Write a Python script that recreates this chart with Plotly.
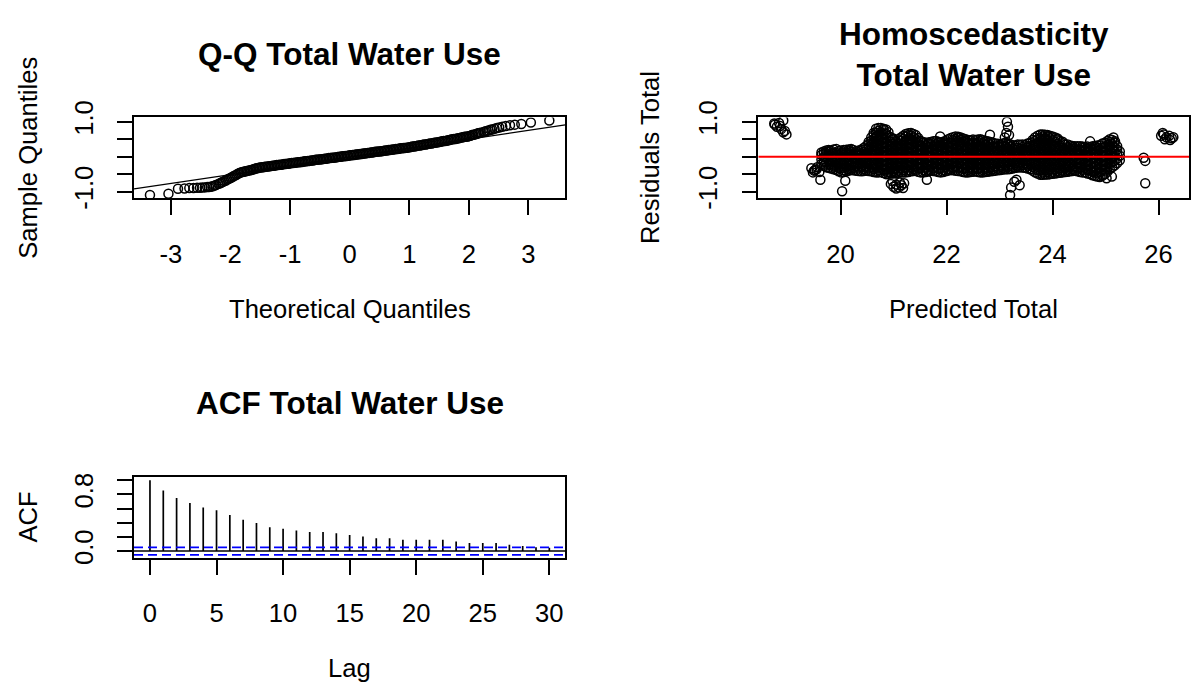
import plotly.graph_objects as go

W, H = 1193, 691
FONT = "Arial, 'Liberation Sans', sans-serif"

# ---------------- Q-Q plot of residuals ----------------
QQ_THEORETICAL = [
    -3.35, -3.04, -2.88, -2.77, -2.69, -2.62, -2.56, -2.51, -2.47, -2.43, -2.39, -2.36, -2.33, -2.30, -2.27, -2.245,
    -2.2, -2.175, -2.15, -2.125, -2.1, -2.075, -2.05, -2.025, -2.0,
    -1.975, -1.95, -1.925, -1.9, -1.875, -1.85,
    -1.825, -1.8, -1.775, -1.75, -1.725, -1.7, -1.675, -1.65, -1.625, -1.6, -1.575, -1.55, -1.525, -1.5,
    -1.475, -1.45, -1.425, -1.4, -1.375, -1.35, -1.325, -1.3, -1.275, -1.25,
    -1.225, -1.2, -1.175, -1.15, -1.125, -1.1, -1.075, -1.05, -1.025, -1.0,
    -0.975, -0.95, -0.925, -0.9, -0.875, -0.85, -0.825, -0.8, -0.775, -0.75,
    -0.725, -0.7, -0.675, -0.65, -0.625, -0.6, -0.575, -0.55, -0.525, -0.5,
    -0.475, -0.45, -0.425, -0.4, -0.375, -0.35, -0.325, -0.3, -0.275, -0.25,
    -0.225, -0.2, -0.175, -0.15, -0.125, -0.1, -0.075, -0.05, -0.025, 0.0,
    0.025, 0.05, 0.075, 0.1, 0.125, 0.15, 0.175, 0.2, 0.225, 0.25,
    0.275, 0.3, 0.325, 0.35, 0.375, 0.4, 0.425, 0.45, 0.475, 0.5,
    0.525, 0.55, 0.575, 0.6, 0.625, 0.65, 0.675, 0.7, 0.725, 0.75,
    0.775, 0.8, 0.825, 0.85, 0.875, 0.9, 0.925, 0.95, 0.975, 1.0,
    1.025, 1.05, 1.075, 1.1, 1.125, 1.15, 1.175, 1.2, 1.225, 1.25,
    1.275, 1.3, 1.325, 1.35, 1.375, 1.4, 1.425, 1.45, 1.475, 1.5,
    1.525, 1.55, 1.575, 1.6, 1.625, 1.65, 1.675, 1.7, 1.725, 1.75,
    1.775, 1.8, 1.825, 1.85, 1.875, 1.9, 1.925, 1.95, 1.975, 2.0,
    2.025, 2.05, 2.075, 2.1, 2.125, 2.15, 2.175, 2.2,
    2.245, 2.27, 2.30, 2.33, 2.36, 2.39, 2.43, 2.47, 2.51, 2.56, 2.62, 2.69, 2.77, 2.88, 3.04, 3.35,
]
QQ_SAMPLE = [
    -1.10, -1.06, -0.92, -0.91, -0.90, -0.90, -0.89, -0.89, -0.88, -0.88, -0.87, -0.87, -0.86, -0.85, -0.83, -0.81,
    -0.78, -0.76, -0.74, -0.72, -0.70, -0.68, -0.65, -0.63, -0.61,
    -0.59, -0.56, -0.54, -0.52, -0.49, -0.47,
    -0.45, -0.44, -0.43, -0.42, -0.41, -0.40, -0.39, -0.38, -0.37, -0.35, -0.34, -0.33, -0.32, -0.31,
    -0.30, -0.30, -0.29, -0.29, -0.28, -0.27, -0.27, -0.26, -0.26, -0.25,
    -0.24, -0.24, -0.23, -0.23, -0.22, -0.21, -0.21, -0.20, -0.20, -0.19,
    -0.18, -0.18, -0.17, -0.17, -0.16, -0.16, -0.15, -0.15, -0.14, -0.13,
    -0.13, -0.12, -0.12, -0.11, -0.11, -0.10, -0.09, -0.09, -0.08, -0.08,
    -0.07, -0.07, -0.06, -0.06, -0.05, -0.04, -0.04, -0.03, -0.03, -0.02,
    -0.02, -0.01, 0.00, 0.00, 0.01, 0.01, 0.02, 0.02, 0.03, 0.04,
    0.04, 0.05, 0.05, 0.06, 0.06, 0.07, 0.08, 0.08, 0.09, 0.09,
    0.10, 0.11, 0.11, 0.12, 0.12, 0.13, 0.14, 0.14, 0.15, 0.15,
    0.16, 0.16, 0.17, 0.18, 0.18, 0.19, 0.19, 0.20, 0.21, 0.21,
    0.22, 0.22, 0.23, 0.24, 0.24, 0.25, 0.25, 0.26, 0.26, 0.27,
    0.28, 0.29, 0.29, 0.30, 0.31, 0.32, 0.32, 0.33, 0.34, 0.35,
    0.35, 0.36, 0.37, 0.38, 0.38, 0.39, 0.40, 0.41, 0.41, 0.42,
    0.43, 0.44, 0.45, 0.45, 0.46, 0.47, 0.48, 0.49, 0.50, 0.51,
    0.51, 0.52, 0.53, 0.54, 0.55, 0.56, 0.57, 0.57, 0.58, 0.59,
    0.60, 0.62, 0.63, 0.64, 0.65, 0.67, 0.68, 0.69,
    0.71, 0.72, 0.74, 0.75, 0.77, 0.78, 0.80, 0.82, 0.84, 0.86, 0.88, 0.90, 0.92, 0.94, 0.98, 1.04,
]
QQ_LINE_INTERCEPT = -0.005
QQ_LINE_SLOPE = 0.254
QQ_XTICKS = [-3, -2, -1, 0, 1, 2, 3]

RESID_YTICKS = [-1.0, -0.5, 0.0, 0.5, 1.0]
RESID_YTICK_TEXT = ["-1.0", "", "", "", "1.0"]

# ---------------- residuals vs predicted ----------------
# main cloud: predicted value of each vertical strip and the residuals in it
FITTED_COLUMNS = [
    19.64, 19.685, 19.73, 19.775, 19.82, 19.87, 19.92, 19.965, 20.01, 20.06,
    20.11, 20.155, 20.20, 20.245, 20.29, 20.34, 20.39, 20.435, 20.48, 20.53,
    20.58, 20.625, 20.67, 20.715, 20.76, 20.81, 20.86, 20.905, 20.95, 20.995,
    21.04, 21.09, 21.14, 21.185, 21.23, 21.28, 21.33, 21.375, 21.42, 21.465,
    21.51, 21.56, 21.61, 21.655, 21.70, 21.75, 21.80, 21.845, 21.89, 21.935,
    21.98, 22.03, 22.08, 22.125, 22.17, 22.22, 22.27, 22.315, 22.36, 22.405,
    22.45, 22.50, 22.55, 22.595, 22.64, 22.685, 22.73, 22.78, 22.83, 22.875,
    22.92, 22.97, 23.02, 23.065, 23.11, 23.155, 23.20, 23.25, 23.30, 23.345,
    23.39, 23.435, 23.48, 23.53, 23.58, 23.625, 23.67, 23.72, 23.77, 23.815,
    23.86, 23.905, 23.95, 24.00, 24.05, 24.095, 24.14, 24.19, 24.24, 24.285,
    24.33, 24.375, 24.42, 24.47, 24.52, 24.565, 24.61, 24.66, 24.71, 24.755,
    24.80, 24.845, 24.89, 24.94, 24.99, 25.035, 25.08, 25.125, 25.17, 25.22,
    25.27,
]
RESIDUALS_BY_COLUMN = [
    [-0.21, -0.08, 0.05, 0.12],
    [-0.26, -0.145, -0.015, 0.09, 0.15],
    [-0.30, -0.16, -0.03, 0.10, 0.18],
    [-0.32, -0.23, -0.095, 0.035, 0.14, 0.19],
    [-0.34, -0.22, -0.09, 0.04, 0.17],
    [-0.36, -0.28, -0.155, -0.025, 0.105, 0.21],
    [-0.38, -0.27, -0.15, -0.02, 0.11, 0.22],
    [-0.42, -0.325, -0.21, -0.085, 0.045, 0.165],
    [-0.45, -0.33, -0.20, -0.07, 0.06, 0.18],
    [-0.44, -0.39, -0.265, -0.135, -0.005, 0.12, 0.19],
    [-0.42, -0.29, -0.14, -0.01, 0.12, 0.20],
    [-0.40, -0.355, -0.215, -0.075, 0.055, 0.16, 0.21],
    [-0.38, -0.25, -0.12, 0.01, 0.14, 0.22],
    [-0.39, -0.315, -0.185, -0.055, 0.075, 0.19],
    [-0.40, -0.27, -0.15, -0.03, 0.09, 0.16],
    [-0.41, -0.335, -0.21, -0.09, 0.03, 0.125, 0.18],
    [-0.42, -0.30, -0.17, -0.04, 0.08, 0.20],
    [-0.41, -0.36, -0.235, -0.105, 0.02, 0.14, 0.25],
    [-0.40, -0.28, -0.15, -0.02, 0.11, 0.23, 0.30],
    [-0.41, -0.34, -0.215, -0.085, 0.045, 0.17, 0.265, 0.36, 0.42],
    [-0.42, -0.30, -0.17, -0.04, 0.09, 0.21, 0.34, 0.46, 0.55],
    [-0.44, -0.36, -0.235, -0.105, 0.025, 0.15, 0.275, 0.40, 0.505, 0.62, 0.68],
    [-0.45, -0.32, -0.19, -0.06, 0.07, 0.19, 0.31, 0.44, 0.57, 0.69, 0.80],
    [-0.45, -0.385, -0.255, -0.125, 0.005, 0.13, 0.25, 0.375, 0.505, 0.63, 0.745, 0.82],
    [-0.44, -0.31, -0.18, -0.05, 0.08, 0.20, 0.33, 0.46, 0.58, 0.71, 0.82],
    [-0.47, -0.375, -0.245, -0.115, 0.015, 0.14, 0.265, 0.395, 0.52, 0.645, 0.765, 0.80],
    [-0.50, -0.37, -0.24, -0.11, 0.02, 0.15, 0.27, 0.40, 0.53, 0.66, 0.78],
    [-0.49, -0.435, -0.305, -0.175, -0.045, 0.085, 0.21, 0.335, 0.465, 0.595, 0.70],
    [-0.48, -0.35, -0.22, -0.09, 0.04, 0.17, 0.30, 0.43, 0.55],
    [-0.48, -0.415, -0.285, -0.155, -0.025, 0.105, 0.235, 0.365, 0.49, 0.52],
    [-0.47, -0.34, -0.21, -0.08, 0.05, 0.18, 0.31, 0.44],
    [-0.46, -0.405, -0.275, -0.145, -0.015, 0.115, 0.245, 0.375, 0.50],
    [-0.45, -0.32, -0.19, -0.06, 0.07, 0.20, 0.33, 0.46, 0.55],
    [-0.45, -0.385, -0.255, -0.125, 0.005, 0.135, 0.265, 0.395, 0.505, 0.60],
    [-0.45, -0.32, -0.19, -0.06, 0.07, 0.20, 0.33, 0.46, 0.58, 0.65],
    [-0.44, -0.385, -0.255, -0.125, 0.005, 0.135, 0.265, 0.395, 0.52, 0.615, 0.67],
    [-0.42, -0.29, -0.16, -0.03, 0.10, 0.23, 0.36, 0.49, 0.61, 0.68],
    [-0.41, -0.355, -0.225, -0.095, 0.035, 0.165, 0.295, 0.425, 0.55, 0.65],
    [-0.40, -0.27, -0.14, -0.01, 0.12, 0.25, 0.38, 0.50, 0.62],
    [-0.43, -0.335, -0.205, -0.075, 0.055, 0.185, 0.315, 0.44, 0.54],
    [-0.45, -0.32, -0.19, -0.06, 0.07, 0.20, 0.33, 0.45],
    [-0.45, -0.385, -0.255, -0.125, 0.005, 0.135, 0.265, 0.39, 0.42],
    [-0.44, -0.31, -0.18, -0.05, 0.08, 0.21, 0.33, 0.40],
    [-0.42, -0.375, -0.245, -0.115, 0.015, 0.145, 0.27, 0.365, 0.41],
    [-0.40, -0.27, -0.14, -0.01, 0.12, 0.25, 0.37, 0.42],
    [-0.41, -0.335, -0.205, -0.075, 0.055, 0.185, 0.31, 0.44],
    [-0.42, -0.29, -0.16, -0.03, 0.10, 0.23, 0.35, 0.45],
    [-0.44, -0.355, -0.225, -0.095, 0.035, 0.165, 0.29, 0.40, 0.43],
    [-0.45, -0.32, -0.19, -0.06, 0.07, 0.20, 0.32, 0.40],
    [-0.44, -0.385, -0.255, -0.125, 0.005, 0.135, 0.26, 0.36, 0.43],
    [-0.42, -0.29, -0.16, -0.03, 0.10, 0.23, 0.35, 0.45],
    [-0.40, -0.355, -0.225, -0.095, 0.035, 0.165, 0.29, 0.40, 0.50],
    [-0.38, -0.25, -0.12, 0.01, 0.14, 0.27, 0.40, 0.54],
    [-0.39, -0.315, -0.185, -0.055, 0.075, 0.205, 0.335, 0.47, 0.56],
    [-0.40, -0.27, -0.14, -0.01, 0.12, 0.25, 0.38, 0.50, 0.58],
    [-0.41, -0.335, -0.205, -0.075, 0.055, 0.185, 0.315, 0.44, 0.54, 0.57],
    [-0.42, -0.29, -0.16, -0.03, 0.10, 0.23, 0.36, 0.48, 0.55],
    [-0.44, -0.355, -0.225, -0.095, 0.035, 0.165, 0.295, 0.42, 0.52],
    [-0.45, -0.32, -0.19, -0.06, 0.07, 0.20, 0.33, 0.45, 0.50],
    [-0.45, -0.385, -0.255, -0.125, 0.005, 0.135, 0.265, 0.39, 0.48],
    [-0.44, -0.31, -0.18, -0.05, 0.08, 0.21, 0.34, 0.47],
    [-0.43, -0.375, -0.245, -0.115, 0.015, 0.145, 0.275, 0.405, 0.49],
    [-0.42, -0.29, -0.16, -0.03, 0.10, 0.23, 0.36, 0.48],
    [-0.44, -0.355, -0.225, -0.095, 0.035, 0.165, 0.295, 0.42, 0.49],
    [-0.45, -0.32, -0.19, -0.06, 0.07, 0.20, 0.33, 0.45, 0.50],
    [-0.45, -0.385, -0.255, -0.125, 0.005, 0.135, 0.265, 0.39, 0.48],
    [-0.44, -0.31, -0.18, -0.05, 0.08, 0.21, 0.34, 0.45],
    [-0.43, -0.375, -0.245, -0.115, 0.015, 0.145, 0.275, 0.395, 0.44],
    [-0.42, -0.29, -0.16, -0.03, 0.10, 0.23, 0.35, 0.42],
    [-0.41, -0.355, -0.225, -0.095, 0.035, 0.165, 0.29, 0.40],
    [-0.40, -0.27, -0.14, -0.01, 0.12, 0.25, 0.38],
    [-0.39, -0.335, -0.205, -0.075, 0.055, 0.185, 0.315, 0.37],
    [-0.38, -0.25, -0.12, 0.01, 0.14, 0.27, 0.35],
    [-0.37, -0.315, -0.185, -0.055, 0.075, 0.205, 0.31, 0.38],
    [-0.36, -0.23, -0.10, 0.03, 0.16, 0.29, 0.40],
    [-0.36, -0.295, -0.165, -0.035, 0.095, 0.225, 0.345, 0.38],
    [-0.35, -0.22, -0.09, 0.04, 0.17, 0.29, 0.36],
    [-0.34, -0.285, -0.155, -0.025, 0.105, 0.23, 0.33],
    [-0.32, -0.19, -0.06, 0.07, 0.20, 0.32],
    [-0.31, -0.255, -0.125, 0.005, 0.135, 0.26, 0.35],
    [-0.30, -0.17, -0.04, 0.09, 0.22, 0.34],
    [-0.31, -0.235, -0.105, 0.025, 0.155, 0.28, 0.35],
    [-0.32, -0.19, -0.06, 0.07, 0.20, 0.33],
    [-0.34, -0.255, -0.125, 0.005, 0.135, 0.265, 0.38],
    [-0.36, -0.23, -0.10, 0.03, 0.16, 0.29, 0.40],
    [-0.40, -0.295, -0.165, -0.035, 0.095, 0.225, 0.345, 0.48],
    [-0.45, -0.32, -0.19, -0.06, 0.07, 0.20, 0.33, 0.45, 0.55],
    [-0.48, -0.385, -0.255, -0.125, 0.005, 0.135, 0.265, 0.39, 0.50, 0.60],
    [-0.52, -0.39, -0.26, -0.13, 0.00, 0.13, 0.26, 0.39, 0.52, 0.64],
    [-0.52, -0.455, -0.325, -0.195, -0.065, 0.065, 0.195, 0.325, 0.455, 0.58, 0.64],
    [-0.51, -0.38, -0.25, -0.12, 0.01, 0.14, 0.27, 0.40, 0.53, 0.63],
    [-0.51, -0.445, -0.315, -0.185, -0.055, 0.075, 0.205, 0.335, 0.465, 0.58, 0.62],
    [-0.50, -0.37, -0.24, -0.11, 0.02, 0.15, 0.28, 0.41, 0.53, 0.60],
    [-0.49, -0.435, -0.305, -0.175, -0.045, 0.085, 0.215, 0.345, 0.47, 0.58],
    [-0.48, -0.35, -0.22, -0.09, 0.04, 0.17, 0.30, 0.43, 0.55],
    [-0.47, -0.415, -0.285, -0.155, -0.025, 0.105, 0.235, 0.365, 0.49, 0.52],
    [-0.46, -0.33, -0.20, -0.07, 0.06, 0.19, 0.32, 0.45],
    [-0.45, -0.395, -0.265, -0.135, -0.005, 0.125, 0.255, 0.385, 0.43],
    [-0.44, -0.31, -0.18, -0.05, 0.08, 0.21, 0.34],
    [-0.43, -0.375, -0.245, -0.115, 0.015, 0.145, 0.275, 0.35],
    [-0.42, -0.29, -0.16, -0.03, 0.10, 0.22, 0.32],
    [-0.41, -0.355, -0.225, -0.095, 0.035, 0.16, 0.27, 0.31],
    [-0.40, -0.27, -0.14, -0.01, 0.12, 0.24, 0.30],
    [-0.42, -0.335, -0.205, -0.075, 0.055, 0.18, 0.30],
    [-0.44, -0.31, -0.18, -0.05, 0.08, 0.20, 0.30],
    [-0.45, -0.375, -0.245, -0.115, 0.015, 0.14, 0.25, 0.29],
    [-0.45, -0.32, -0.19, -0.06, 0.07, 0.19, 0.28],
    [-0.48, -0.385, -0.255, -0.125, 0.005, 0.13, 0.235, 0.29],
    [-0.50, -0.37, -0.24, -0.11, 0.02, 0.15, 0.27],
    [-0.53, -0.435, -0.305, -0.175, -0.045, 0.085, 0.21, 0.30],
    [-0.55, -0.42, -0.29, -0.16, -0.03, 0.10, 0.22, 0.30],
    [-0.57, -0.485, -0.355, -0.225, -0.095, 0.035, 0.16, 0.26, 0.32],
    [-0.58, -0.45, -0.32, -0.19, -0.06, 0.07, 0.20, 0.33],
    [-0.55, -0.515, -0.385, -0.255, -0.125, 0.005, 0.135, 0.265, 0.38],
    [-0.50, -0.37, -0.24, -0.11, 0.02, 0.15, 0.28, 0.40],
    [-0.43, -0.305, -0.175, -0.045, 0.085, 0.215, 0.34, 0.45],
    [-0.35, -0.22, -0.09, 0.04, 0.17, 0.30, 0.42, 0.50],
    [-0.30, -0.155, -0.025, 0.105, 0.235, 0.36, 0.48],
    [-0.25, -0.12, 0.01, 0.14, 0.27, 0.40],
    [-0.18, -0.055, 0.075, 0.205, 0.30],
    [-0.10, 0.03, 0.15],
]
# points lying apart from the main cloud
FITTED_SCATTERED = [
    18.75, 18.76, 18.80, 18.84, 18.86, 18.88, 18.92, 18.92, 18.95, 18.98,
    19.45, 19.48, 19.50, 19.52, 19.55, 19.56, 19.60, 19.62, 20.03, 20.09,
    20.95, 20.98, 21.00, 21.05, 21.05, 21.10, 21.12, 21.15, 21.18, 21.20,
    21.63, 21.88, 22.82, 23.10, 23.13, 23.14, 23.16, 23.18, 23.20, 23.22,
    23.28, 23.32, 23.38, 24.71, 25.02, 25.12, 25.15, 25.18, 25.72, 25.75,
    25.75, 26.05, 26.08, 26.10, 26.12, 26.15, 26.20, 26.22, 26.25, 26.28,
]
RESID_SCATTERED = [
    0.95, 0.92, 0.86, 0.97, 0.88, 0.79, 1.04, 0.70, 0.74, 0.64,
    -0.33, -0.45, -0.40, -0.38, -0.36, -0.30, -0.44, -0.66, -0.99, -0.69,
    -0.78, -0.70, -0.86, -0.80, -0.91, -0.88, -0.74, -0.82, -0.90, -0.76,
    -0.66, 0.58, 0.63, 0.55, 0.68, 1.00, 0.86, 0.62, -1.10, -0.88,
    -0.72, -0.66, -0.82, 0.44, -0.62, -0.57, 0.55, 0.44, -0.03, -0.12,
    -0.76, 0.60, 0.68, 0.64, 0.50, 0.56, 0.60, 0.48, 0.53, 0.56,
]
FITTED_XTICKS = [20, 22, 24, 26]

# ---------------- autocorrelation ----------------
LAGS = [0, 1, 2, 3, 4, 5, 6, 7, 8, 9, 10, 11, 12, 13, 14, 15,
        16, 17, 18, 19, 20, 21, 22, 23, 24, 25, 26, 27, 28, 29, 30]
ACF_VALUES = [1.0, 0.854, 0.749, 0.68, 0.616, 0.575, 0.511, 0.443, 0.397, 0.338,
              0.315, 0.292, 0.269, 0.269, 0.251, 0.228, 0.205, 0.183, 0.183, 0.16,
              0.16, 0.16, 0.16, 0.137, 0.114, 0.114, 0.114, 0.091, 0.073, 0.055, 0.046]
ACF_CI = 0.053
ACF_XTICKS = [0, 5, 10, 15, 20, 25, 30]
ACF_YTICKS = [0.0, 0.2, 0.4, 0.6, 0.8, 1.0]
ACF_YTICK_TEXT = ["0.0", "", "", "", "0.8", ""]

assert len(QQ_THEORETICAL) == len(QQ_SAMPLE)
assert len(FITTED_COLUMNS) == len(RESIDUALS_BY_COLUMN)
assert len(FITTED_SCATTERED) == len(RESID_SCATTERED)

fitted, resid = [], []
for fx, col in zip(FITTED_COLUMNS, RESIDUALS_BY_COLUMN):
    for r in col:
        fitted.append(fx)
        resid.append(r)
fitted += FITTED_SCATTERED
resid += RESID_SCATTERED


def padded(values):
    """Axis limits with the usual 4% extension on both ends."""
    lo, hi = min(values), max(values)
    pad = 0.04 * (hi - lo)
    return [lo - pad, hi + pad]


# panel boxes in pixels: left, top, right, bottom
QQ_BOX = (134, 104.7, 565.3, 188.7)
FIT_BOX = (758.3, 104.7, 1189.3, 188.7)
ACF_BOX = (134, 479.7, 565.3, 563.7)


def xdom(b):
    return [b[0] / W, b[2] / W]


def ydom(b):
    return [1 - b[3] / H, 1 - b[1] / H]


qq_xr = padded(QQ_THEORETICAL)
qq_yr = padded(QQ_SAMPLE)
fit_xr = padded(fitted)
fit_yr = padded(resid)
acf_xr = padded(LAGS)
acf_yr = padded(ACF_VALUES + [ACF_CI, -ACF_CI])

marker = dict(symbol="circle-open", size=9, color="black", line=dict(width=1.5, color="black"))

fig = go.Figure()

# Q-Q points and reference line
fig.add_trace(go.Scatter(x=QQ_THEORETICAL, y=QQ_SAMPLE, mode="markers", marker=marker,
                         xaxis="x", yaxis="y", showlegend=False, hoverinfo="skip"))
fig.add_trace(go.Scatter(x=qq_xr, y=[QQ_LINE_INTERCEPT + QQ_LINE_SLOPE * v for v in qq_xr],
                         mode="lines", line=dict(color="black", width=1.3),
                         xaxis="x", yaxis="y", showlegend=False, hoverinfo="skip"))

# residuals vs predicted with zero line
fig.add_trace(go.Scatter(x=fitted, y=resid, mode="markers", marker=marker,
                         xaxis="x2", yaxis="y2", showlegend=False, hoverinfo="skip"))
fig.add_trace(go.Scatter(x=fit_xr, y=[0, 0], mode="lines", line=dict(color="#ff0000", width=2),
                         xaxis="x2", yaxis="y2", showlegend=False, hoverinfo="skip"))

# ACF spikes
sx, sy = [], []
for lag, val in zip(LAGS, ACF_VALUES):
    sx += [lag, lag, None]
    sy += [0, val, None]
fig.add_trace(go.Scatter(x=sx, y=sy, mode="lines", line=dict(color="black", width=1.7),
                         xaxis="x3", yaxis="y3", showlegend=False, hoverinfo="skip"))
fig.add_trace(go.Scatter(x=acf_xr, y=[0, 0], mode="lines", line=dict(color="black", width=1.5),
                         xaxis="x3", yaxis="y3", showlegend=False, hoverinfo="skip"))
for c in (ACF_CI, -ACF_CI):
    fig.add_trace(go.Scatter(x=acf_xr, y=[c, c], mode="lines",
                             line=dict(color="#0000ff", width=1.6, dash="9px,5px"),
                             xaxis="x3", yaxis="y3", showlegend=False, hoverinfo="skip"))

TICK_SIZE = 25.6
axis_common = dict(showline=True, linecolor="black", linewidth=1.5, mirror=True,
                   ticks="outside", ticklen=15, tickwidth=1.5, tickcolor="black",
                   showgrid=False, zeroline=False,
                   tickfont=dict(family=FONT, size=TICK_SIZE, color="black"))
xcommon = dict(axis_common, ticklabelstandoff=17)
ycommon = dict(axis_common, tickangle=-90, ticklabelstandoff=14)

fig.update_layout(
    width=W, height=H, autosize=False,
    margin=dict(l=0, r=0, t=0, b=0),
    paper_bgcolor="white", plot_bgcolor="white",
    font=dict(family=FONT, size=TICK_SIZE, color="black"),
    xaxis=dict(xcommon, domain=xdom(QQ_BOX), range=qq_xr, tickvals=QQ_XTICKS,
               ticktext=[str(t) for t in QQ_XTICKS], anchor="y"),
    yaxis=dict(ycommon, domain=ydom(QQ_BOX), range=qq_yr, tickvals=RESID_YTICKS,
               ticktext=RESID_YTICK_TEXT, anchor="x"),
    xaxis2=dict(xcommon, domain=xdom(FIT_BOX), range=fit_xr, tickvals=FITTED_XTICKS,
                ticktext=[str(t) for t in FITTED_XTICKS], anchor="y2"),
    yaxis2=dict(ycommon, domain=ydom(FIT_BOX), range=fit_yr, tickvals=RESID_YTICKS,
                ticktext=RESID_YTICK_TEXT, anchor="x2"),
    xaxis3=dict(xcommon, domain=xdom(ACF_BOX), range=acf_xr, tickvals=ACF_XTICKS,
                ticktext=[str(t) for t in ACF_XTICKS], anchor="y3"),
    yaxis3=dict(ycommon, domain=ydom(ACF_BOX), range=acf_yr, tickvals=ACF_YTICKS,
                ticktext=ACF_YTICK_TEXT, anchor="x3"),
)


def label(text, px, py, size=TICK_SIZE, bold=False, angle=0):
    fig.add_annotation(text=f"<b>{text}</b>" if bold else text,
                       x=px / W, y=1 - py / H, xref="paper", yref="paper",
                       xanchor="center", yanchor="middle", showarrow=False,
                       textangle=angle, font=dict(family=FONT, size=size, color="black"))


def cx(b):
    return (b[0] + b[2]) / 2


def cy(b):
    return (b[1] + b[3]) / 2


TITLE_SIZE = 31.5
label("Q-Q Total Water Use", cx(QQ_BOX), 39, size=TITLE_SIZE, bold=True)
label("Homoscedasticity<br>Total Water Use", cx(FIT_BOX), 39, size=TITLE_SIZE, bold=True)
label("ACF Total Water Use", cx(ACF_BOX), 402, size=TITLE_SIZE, bold=True)
label("Theoretical Quantiles", cx(QQ_BOX), 304)
label("Predicted Total", cx(FIT_BOX), 304)
label("Lag", cx(ACF_BOX), 679)
label("Sample Quantiles", QQ_BOX[0] - 106, cy(QQ_BOX), angle=-90)
label("Residuals Total", FIT_BOX[0] - 109, cy(FIT_BOX), angle=-90)
label("ACF", ACF_BOX[0] - 106, cy(ACF_BOX), angle=-90)

fig.write_html("out.html")
